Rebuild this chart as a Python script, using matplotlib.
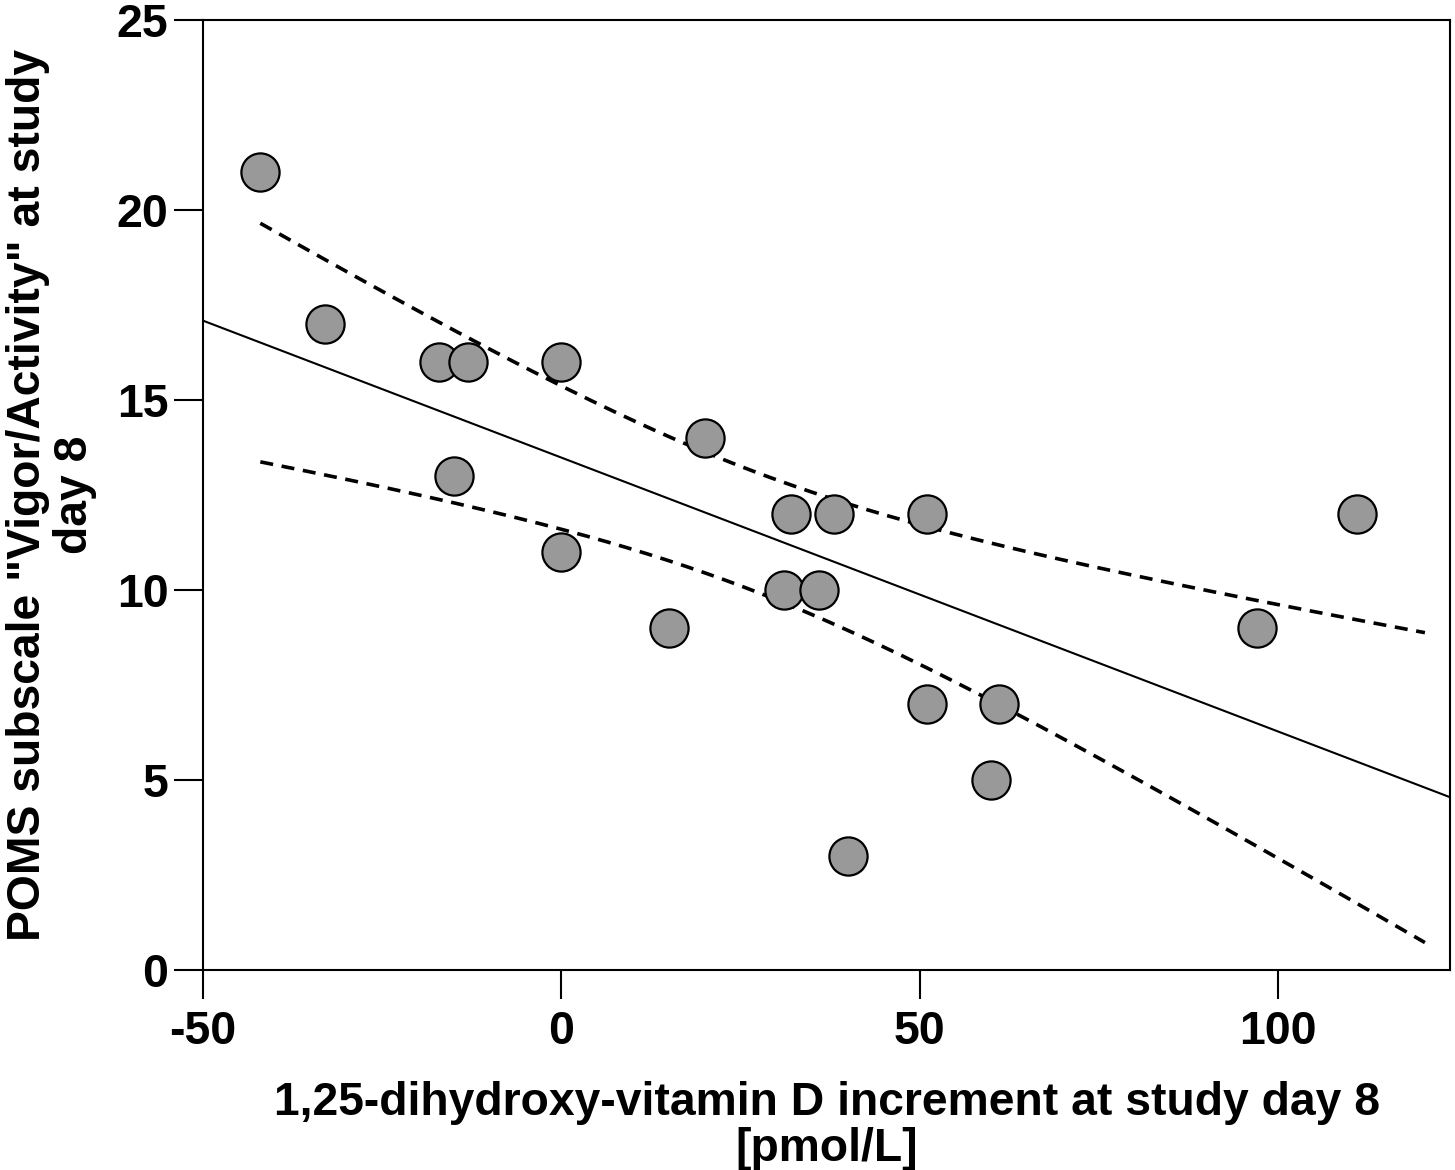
import numpy as np
import matplotlib
matplotlib.use("Agg")
import matplotlib.pyplot as plt

plt.rcParams['font.family'] = ['Liberation Sans', 'DejaVu Sans']
plt.rcParams['font.weight'] = 'bold'

# Data
vitd_increment = [-42, -33, -17, -13, 0, -15, 0, 15, 20, 31, 32, 36, 38, 40, 51, 51, 60, 61, 97, 111]
vigor_activity = [21, 17, 16, 16, 16, 13, 11, 9, 14, 10, 12, 10, 12, 3, 12, 7, 5, 7, 9, 12]

x_ticks = [-50, 0, 50, 100]
y_ticks = [0, 5, 10, 15, 20, 25]
x_label = "1,25-dihydroxy-vitamin D increment at study day 8\n[pmol/L]"
y_label = "POMS subscale \"Vigor/Activity\" at study\nday 8"

x = np.array(vitd_increment, dtype=float)
y = np.array(vigor_activity, dtype=float)
n = len(x)
slope, intercept = np.polyfit(x, y, 1)
resid = y - (slope * x + intercept)
s = np.sqrt(np.sum(resid ** 2) / (n - 2))
sxx = np.sum((x - x.mean()) ** 2)
t_crit = 2.101  # t(0.975, df=18)

fig = plt.figure(figsize=(14.55, 11.7), dpi=100)
ax = fig.add_axes([203 / 1455, 200 / 1170, 1247 / 1455, 950 / 1170])

xlim = (-50, 124)
ax.set_xlim(*xlim)
ax.set_ylim(0, 25)

# regression line over full axis
xl = np.linspace(xlim[0], xlim[1], 200)
ax.plot(xl, slope * xl + intercept, color='black', lw=1.5, zorder=2)

# 95% CI of mean
xc = np.linspace(x.min(), 120.5, 300)
yc = slope * xc + intercept
half = t_crit * s * np.sqrt(1 / n + (xc - x.mean()) ** 2 / sxx)
for band in (yc + half, yc - half):
    ax.plot(xc, band, color='black', lw=2.6, linestyle=(0, (3.6, 2.4)), zorder=2)

ax.scatter(x, y, s=27.5 ** 2, facecolor='#999999', edgecolor='black', linewidths=1.6, zorder=3)

ax.set_xticks(x_ticks)
ax.set_yticks(y_ticks)
ax.set_xticklabels([str(v) for v in x_ticks])
ax.set_yticklabels([str(v) for v in y_ticks])
ax.tick_params(axis='both', direction='out', length=21, width=1.5, labelsize=33.5)
ax.tick_params(axis='x', pad=8)
ax.tick_params(axis='y', pad=4)
for sp in ax.spines.values():
    sp.set_linewidth(1.5)

ax.set_xlabel(x_label, fontsize=33.3, fontweight='bold', linespacing=1.04)
ax.xaxis.set_label_coords(0.5, -0.117)
ax.set_ylabel(y_label, fontsize=33.3, fontweight='bold', linespacing=1.08)
ax.yaxis.set_label_coords(-0.085, 0.5)

fig.savefig('out.png', dpi=100)
